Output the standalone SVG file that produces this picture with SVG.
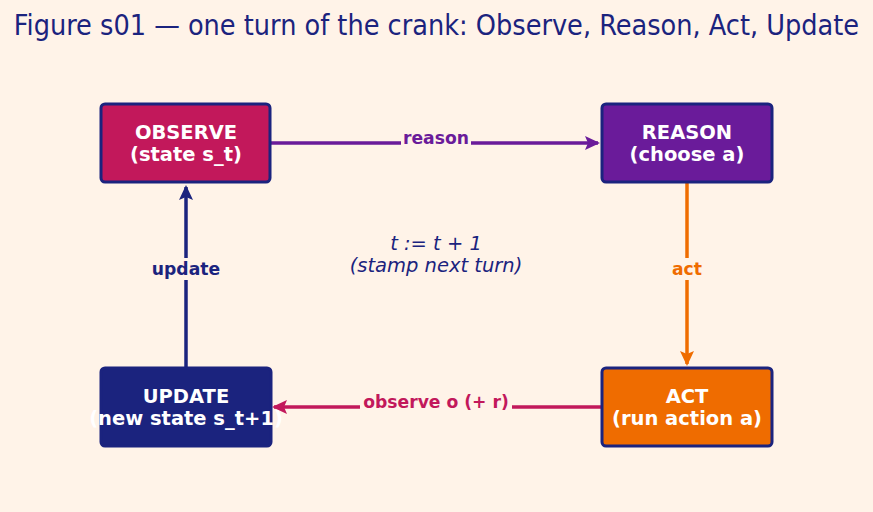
<svg xmlns="http://www.w3.org/2000/svg" width="873" height="512" viewBox="0 0 873 512">
<style>
.title{font-family:"DejaVu Sans Condensed","DejaVu Sans",sans-serif;font-size:28.5px;fill:#1b237e}
.nt{font-family:"DejaVu Sans",sans-serif;font-weight:bold;font-size:19.5px;fill:#ffffff;text-anchor:middle}
.el{font-family:"DejaVu Sans",sans-serif;font-weight:bold;font-size:17.2px;text-anchor:middle}
.mid{font-family:"DejaVu Sans",sans-serif;font-style:italic;font-size:19.5px;fill:#1b237e;text-anchor:middle}
.box{stroke:#1b237e;stroke-width:3}
.ln{fill:none;stroke-width:3.5}
</style>
<defs>
<marker id="aP" markerWidth="16" markerHeight="16" refX="13" refY="8" orient="auto" markerUnits="userSpaceOnUse" viewBox="0 0 16 16"><path d="M0,1 L15,8 L0,15 L3,8 Z" fill="#6a1b9a"/></marker>
<marker id="aO" markerWidth="16" markerHeight="16" refX="13" refY="8" orient="auto" markerUnits="userSpaceOnUse" viewBox="0 0 16 16"><path d="M0,1 L15,8 L0,15 L3,8 Z" fill="#ef6c00"/></marker>
<marker id="aR" markerWidth="16" markerHeight="16" refX="13" refY="8" orient="auto" markerUnits="userSpaceOnUse" viewBox="0 0 16 16"><path d="M0,1 L15,8 L0,15 L3,8 Z" fill="#c2185b"/></marker>
<marker id="aB" markerWidth="16" markerHeight="16" refX="13" refY="8" orient="auto" markerUnits="userSpaceOnUse" viewBox="0 0 16 16"><path d="M0,1 L15,8 L0,15 L3,8 Z" fill="#1b237e"/></marker>
</defs>
<rect width="873" height="512" fill="#fff3e8"/>
<text class="title" x="436.5" y="35" text-anchor="middle">Figure s01 — one turn of the crank: Observe, Reason, Act, Update</text>
<g id="connectors">
<line class="ln" x1="271" y1="143" x2="598" y2="143" stroke="#6a1b9a" marker-end="url(#aP)"/>
<rect x="401" y="128" width="70" height="22" fill="#fff3e8"/>
<text class="el" x="436" y="144" fill="#6a1b9a">reason</text>
<line class="ln" x1="687" y1="183" x2="687" y2="364" stroke="#ef6c00" marker-end="url(#aO)"/>
<rect x="668" y="258" width="38" height="22" fill="#fff3e8"/>
<text class="el" x="687" y="275" fill="#ef6c00">act</text>
<line class="ln" x1="601" y1="407" x2="274" y2="407" stroke="#c2185b" marker-end="url(#aR)"/>
<rect x="360" y="392" width="152" height="22" fill="#fff3e8"/>
<text class="el" x="436" y="408" fill="#c2185b">observe o (+ r)</text>
<line class="ln" x1="186" y1="367" x2="186" y2="187" stroke="#1b237e" marker-end="url(#aB)"/>
<rect x="148" y="258" width="76" height="22" fill="#fff3e8"/>
<text class="el" x="186" y="275" fill="#1b237e">update</text>
</g>
<g id="observe">
<rect class="box" x="101" y="104" width="169" height="78" rx="4" fill="#c2185b"/>
<text class="nt" x="186" y="139">OBSERVE</text>
<text class="nt" x="186" y="161">(state s_t)</text>
</g>
<g id="reason">
<rect class="box" x="602" y="104" width="170" height="78" rx="4" fill="#6a1b9a"/>
<text class="nt" x="687" y="139">REASON</text>
<text class="nt" x="687" y="161">(choose a)</text>
</g>
<g id="act">
<rect class="box" x="602" y="368" width="170" height="78" rx="4" fill="#ef6c00"/>
<text class="nt" x="687" y="403">ACT</text>
<text class="nt" x="687" y="425">(run action a)</text>
</g>
<g id="update">
<rect x="101" y="368" width="170" height="78" rx="4" fill="#1b237e" stroke="#1b237e" stroke-width="3"/>
<text class="nt" x="186" y="403">UPDATE</text>
<text class="nt" x="186" y="425">(new state s_t+1)</text>
</g>
<g id="note">
<text class="mid" x="436" y="250">t := t + 1</text>
<text class="mid" x="436" y="272">(stamp next turn)</text>
</g>
</svg>
